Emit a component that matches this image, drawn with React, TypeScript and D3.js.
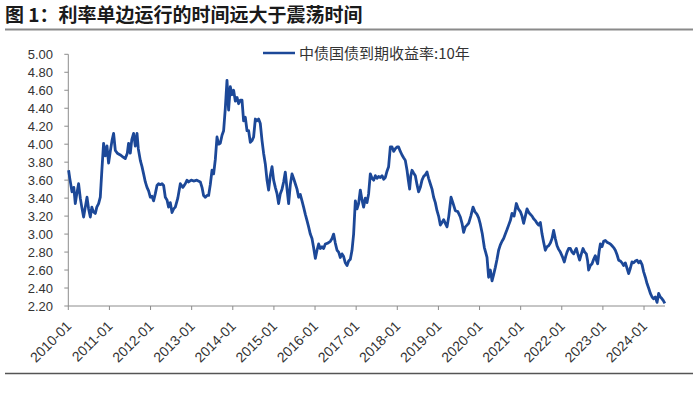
import React from "react";
import * as d3 from "d3";

const title = "图 1：利率单边运行的时间远大于震荡时间";
const seriesName = "中债国债到期收益率:10年";
const yTicks = [2.2, 2.4, 2.6, 2.8, 3.0, 3.2, 3.4, 3.6, 3.8, 4.0, 4.2, 4.4, 4.6, 4.8, 5.0];
const xTickYears = [2010, 2011, 2012, 2013, 2014, 2015, 2016, 2017, 2018, 2019, 2020, 2021, 2022, 2023, 2024];

// decimal year of each observation
const years = [
  2010.007, 2010.036, 2010.090, 2010.134, 2010.170, 2010.207, 2010.250, 2010.292, 2010.328, 2010.372,
  2010.413, 2010.455, 2010.494, 2010.535, 2010.572, 2010.608, 2010.657, 2010.693, 2010.737, 2010.778,
  2010.815, 2010.858, 2010.900, 2010.941, 2010.980, 2011.021, 2011.063, 2011.102, 2011.143, 2011.192,
  2011.265, 2011.325, 2011.386, 2011.435, 2011.466, 2011.508, 2011.544, 2011.588, 2011.629, 2011.671,
  2011.702, 2011.751, 2011.792, 2011.831, 2011.873, 2011.914, 2011.953, 2011.994, 2012.035, 2012.074,
  2012.116, 2012.157, 2012.196, 2012.237, 2012.279, 2012.318, 2012.359, 2012.400, 2012.439, 2012.481,
  2012.522, 2012.561, 2012.602, 2012.663, 2012.724, 2012.785, 2012.845, 2012.887, 2012.926, 2012.991,
  2013.047, 2013.125, 2013.210, 2013.251, 2013.290, 2013.332, 2013.373, 2013.412, 2013.453, 2013.495,
  2013.534, 2013.575, 2013.616, 2013.655, 2013.696, 2013.738, 2013.777, 2013.818, 2013.859, 2013.898,
  2013.940, 2013.981, 2014.020, 2014.061, 2014.103, 2014.141, 2014.183, 2014.224, 2014.263, 2014.304,
  2014.346, 2014.385, 2014.426, 2014.467, 2014.506, 2014.548, 2014.589, 2014.628, 2014.669, 2014.711,
  2014.749, 2014.791, 2014.832, 2014.871, 2014.912, 2014.954, 2014.993, 2015.034, 2015.075, 2015.114,
  2015.156, 2015.197, 2015.236, 2015.277, 2015.319, 2015.358, 2015.399, 2015.440, 2015.479, 2015.520,
  2015.562, 2015.601, 2015.642, 2015.683, 2015.722, 2015.764, 2015.805, 2015.844, 2015.885, 2015.926,
  2015.965, 2016.007, 2016.048, 2016.087, 2016.128, 2016.170, 2016.209, 2016.250, 2016.311, 2016.372,
  2016.413, 2016.452, 2016.493, 2016.535, 2016.574, 2016.615, 2016.656, 2016.695, 2016.736, 2016.778,
  2016.817, 2016.858, 2016.899, 2016.938, 2016.980, 2017.021, 2017.060, 2017.101, 2017.142, 2017.181,
  2017.223, 2017.264, 2017.303, 2017.344, 2017.386, 2017.425, 2017.466, 2017.507, 2017.546, 2017.587,
  2017.629, 2017.668, 2017.709, 2017.750, 2017.789, 2017.831, 2017.872, 2017.911, 2017.952, 2017.994,
  2018.032, 2018.074, 2018.115, 2018.154, 2018.195, 2018.237, 2018.268, 2018.300, 2018.329, 2018.358,
  2018.397, 2018.439, 2018.480, 2018.519, 2018.560, 2018.601, 2018.640, 2018.682, 2018.723, 2018.762,
  2018.803, 2018.845, 2018.884, 2018.925, 2018.966, 2019.005, 2019.047, 2019.088, 2019.127, 2019.168,
  2019.210, 2019.253, 2019.307, 2019.351, 2019.411, 2019.472, 2019.533, 2019.574, 2019.613, 2019.655,
  2019.696, 2019.735, 2019.788, 2019.842, 2019.886, 2019.939, 2019.978, 2020.019, 2020.068, 2020.117,
  2020.148, 2020.182, 2020.221, 2020.263, 2020.304, 2020.343, 2020.384, 2020.425, 2020.464, 2020.506,
  2020.547, 2020.586, 2020.627, 2020.669, 2020.708, 2020.749, 2020.790, 2020.841, 2020.895, 2020.944,
  2020.992, 2021.033, 2021.072, 2021.114, 2021.155, 2021.199, 2021.235, 2021.277, 2021.316, 2021.357,
  2021.398, 2021.437, 2021.479, 2021.520, 2021.559, 2021.600, 2021.641, 2021.680, 2021.722, 2021.763,
  2021.802, 2021.843, 2021.885, 2021.924, 2021.965, 2022.014, 2022.062, 2022.094, 2022.128, 2022.167,
  2022.208, 2022.250, 2022.289, 2022.330, 2022.354, 2022.395, 2022.434, 2022.476, 2022.517, 2022.556,
  2022.597, 2022.629, 2022.653, 2022.695, 2022.736, 2022.775, 2022.816, 2022.848, 2022.872, 2022.906,
  2022.938, 2022.979, 2023.018, 2023.059, 2023.100, 2023.139, 2023.181, 2023.222, 2023.261, 2023.302,
  2023.344, 2023.383, 2023.424, 2023.465, 2023.504, 2023.546, 2023.587, 2023.626, 2023.667, 2023.708,
  2023.747, 2023.789, 2023.830, 2023.869, 2023.910, 2023.952, 2023.991, 2024.032, 2024.073, 2024.112,
  2024.154, 2024.195, 2024.234, 2024.275, 2024.316, 2024.355, 2024.397, 2024.438, 2024.470, 2024.506,
];

// 10-year yield, %
const yields = [
  3.71, 3.62, 3.47, 3.52, 3.34, 3.45, 3.56, 3.40, 3.30, 3.19,
  3.30, 3.41, 3.28, 3.19, 3.30, 3.25, 3.23, 3.30, 3.34, 3.41,
  3.70, 4.01, 3.87, 3.98, 3.79, 3.92, 4.04, 4.12, 3.93, 3.90,
  3.88, 3.86, 3.84, 3.90, 4.01, 3.90, 4.05, 4.12, 3.98, 4.12,
  3.95, 3.82, 3.75, 3.67, 3.58, 3.52, 3.48, 3.41, 3.42, 3.37,
  3.45, 3.54, 3.56, 3.55, 3.56, 3.54, 3.41, 3.38, 3.30, 3.35,
  3.24, 3.28, 3.30, 3.40, 3.56, 3.52, 3.56, 3.60, 3.58, 3.60,
  3.59, 3.60, 3.58, 3.52, 3.43, 3.41, 3.43, 3.43, 3.55, 3.71,
  3.67, 3.83, 4.08, 4.00, 4.01, 4.10, 4.15, 4.40, 4.71, 4.38,
  4.64, 4.55, 4.60, 4.48, 4.52, 4.45, 4.49, 4.49, 4.26, 4.30,
  4.15, 4.15, 4.02, 4.04, 4.08, 4.28, 4.26, 4.28, 4.23, 4.04,
  3.90, 3.78, 3.60, 3.49, 3.65, 3.75, 3.60, 3.52, 3.45, 3.34,
  3.45, 3.50, 3.58, 3.69, 3.50, 3.34, 3.55, 3.67, 3.62, 3.56,
  3.50, 3.41, 3.44, 3.37, 3.30, 3.22, 3.15, 3.08, 3.00, 2.95,
  2.85, 2.73, 2.82, 2.89, 2.84, 2.86, 2.84, 2.89, 2.90, 2.92,
  2.95, 3.00, 2.90, 2.82, 2.80, 2.74, 2.78, 2.75, 2.68, 2.65,
  2.70, 2.72, 2.82, 3.00, 3.37, 3.28, 3.34, 3.49, 3.38, 3.30,
  3.40, 3.35, 3.45, 3.67, 3.62, 3.60, 3.65, 3.62, 3.64, 3.63,
  3.65, 3.61, 3.63, 3.70, 3.75, 3.97, 3.97, 3.92, 3.95, 3.97,
  3.97, 3.92, 3.88, 3.85, 3.82, 3.71, 3.60, 3.50, 3.65, 3.71,
  3.68, 3.65, 3.55, 3.47, 3.52, 3.60, 3.64, 3.66, 3.69, 3.62,
  3.56, 3.50, 3.41, 3.35, 3.26, 3.20, 3.10, 3.13, 3.16, 3.12,
  3.08, 3.20, 3.41, 3.35, 3.26, 3.25, 3.19, 3.12, 3.02, 3.08,
  3.10, 3.12, 3.20, 3.30, 3.25, 3.22, 3.18, 3.11, 3.00, 2.85,
  2.80, 2.74, 2.52, 2.60, 2.48, 2.55, 2.63, 2.72, 2.82, 2.88,
  2.92, 2.95, 3.00, 3.05, 3.10, 3.15, 3.23, 3.20, 3.34, 3.28,
  3.25, 3.20, 3.12, 3.20, 3.28, 3.24, 3.22, 3.20, 3.17, 3.15,
  3.12, 3.10, 3.13, 3.00, 2.91, 2.82, 2.86, 2.87, 2.90, 2.95,
  3.04, 2.95, 2.87, 2.83, 2.80, 2.75, 2.69, 2.75, 2.80, 2.84,
  2.84, 2.80, 2.78, 2.82, 2.84, 2.77, 2.71, 2.78, 2.84, 2.80,
  2.78, 2.70, 2.60, 2.65, 2.67, 2.72, 2.76, 2.70, 2.67, 2.80,
  2.89, 2.86, 2.92, 2.93, 2.91, 2.90, 2.89, 2.87, 2.85, 2.82,
  2.77, 2.71, 2.70, 2.68, 2.65, 2.68, 2.62, 2.56, 2.62, 2.69,
  2.68, 2.70, 2.71, 2.68, 2.70, 2.66, 2.58, 2.52, 2.45, 2.40,
  2.34, 2.30, 2.28, 2.30, 2.24, 2.34, 2.30, 2.28, 2.26, 2.23,
];

const W = 700;
const H = 394;
const latin = "'Liberation Sans', Arial, sans-serif";
const cjk = "'Noto Sans CJK SC', 'Liberation Sans', sans-serif";
const lineColor = "#1c4898";

export default function App() {
  const x = d3.scaleLinear().domain([2010, 2024.51]).range([68.3, 665]);
  const y = d3.scaleLinear().domain([2.2, 5.0]).range([306, 54.3]);
  const pts = years.map((t, i) => [t, yields[i]] as [number, number]);
  const line = d3
    .line<[number, number]>()
    .x((d) => x(d[0]))
    .y((d) => y(d[1]));
  const axisY = y(2.2);

  return (
    <svg
      width={W}
      height={H}
      viewBox={`0 0 ${W} ${H}`}
      style={{ position: "absolute", left: 0, top: 0, background: "#fff" }}
    >
      <rect x={0} y={0} width={W} height={H} fill="#fff" />
      {/* title */}
      <text x={5} y={22} fontFamily={cjk} fontSize={19} fontWeight="bold" fill="#1a1a1a">
        {title}
      </text>
      <line x1={5} x2={693} y1={29.5} y2={29.5} stroke="#8a8a8a" strokeWidth={2} />

      {/* y axis */}
      <line x1={x(2010)} x2={x(2010)} y1={y(5.0)} y2={axisY} stroke="#8c8c8c" strokeWidth={1} />
      {yTicks.map((v) => (
        <g key={v}>
          <line x1={x(2010) - 4} x2={x(2010)} y1={y(v)} y2={y(v)} stroke="#8c8c8c" strokeWidth={1} />
          <text
            x={53}
            y={y(v)}
            dy="0.36em"
            textAnchor="end"
            fontFamily={latin}
            fontSize={13}
            fill="#333"
          >
            {v.toFixed(2)}
          </text>
        </g>
      ))}

      {/* x axis */}
      <line x1={x(2010)} x2={x(2024.51)} y1={axisY} y2={axisY} stroke="#8c8c8c" strokeWidth={1} />
      {xTickYears.map((yr) => (
        <g key={yr}>
          <line x1={x(yr)} x2={x(yr)} y1={axisY} y2={axisY + 4} stroke="#8c8c8c" strokeWidth={1} />
          <text
            transform={`translate(${x(yr) + 4},${axisY + 21}) rotate(-45)`}
            textAnchor="end"
            fontFamily={latin}
            fontSize={14}
            fill="#333"
          >
            {`${yr}-01`}
          </text>
        </g>
      ))}

      {/* series */}
      <path d={line(pts) || ""} fill="none" stroke={lineColor} strokeWidth={2.8} strokeLinejoin="round" />

      {/* legend */}
      <line x1={263} x2={295} y1={53} y2={53} stroke={lineColor} strokeWidth={2.5} />
      <text x={299} y={58.5} fontFamily={cjk} fontSize={15} fill="#333">
        {seriesName}
      </text>

      {/* bottom rule */}
      <line x1={5} x2={693} y1={373.5} y2={373.5} stroke="#555" strokeWidth={1.5} />
    </svg>
  );
}
